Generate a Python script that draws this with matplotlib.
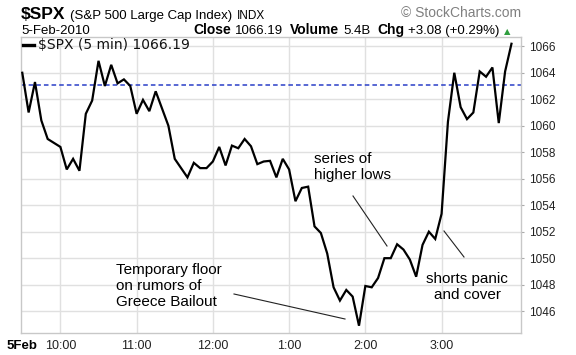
import matplotlib
matplotlib.use("Agg")
import matplotlib.pyplot as plt
from matplotlib.lines import Line2D
import numpy as np

# ---- data (5-minute closes, 5-Feb-2010, starting 9:30) ----
prices = [1064.0, 1061.0, 1063.3, 1060.4, 1059.0, 1058.7, 1058.4, 1056.7, 1057.5, 1056.6,
          1060.9, 1061.9, 1064.9, 1063.0, 1064.6, 1063.2, 1063.5, 1063.0, 1060.9, 1061.95,
          1061.1, 1062.6, 1061.3, 1060.0, 1057.5, 1056.8, 1056.1, 1057.2, 1056.8, 1056.8,
          1057.3, 1058.4, 1057.0, 1058.5, 1058.3, 1059.0, 1058.45, 1057.1, 1057.3, 1057.35,
          1056.1, 1057.5, 1056.7, 1054.3, 1055.3, 1055.4, 1052.4, 1051.9, 1050.35, 1047.8,
          1046.8, 1047.6, 1047.1, 1044.9, 1047.9, 1047.8, 1048.5, 1050.0, 1050.0, 1051.05,
          1050.65, 1049.9, 1048.6, 1051.0, 1052.0, 1051.45, 1053.35, 1060.3, 1064.0, 1061.4,
          1060.5, 1061.0, 1064.1, 1063.7, 1064.4, 1060.2, 1064.1, 1066.19]
minutes = np.arange(len(prices)) * 5          # minutes after 9:30
prev_close = 1063.11

x_tick_pos = [0, 30, 90, 150, 210, 270, 330]
x_tick_labels = ['5Feb', '10:00', '11:00', '12:00', '1:00', '2:00', '3:00']
y_ticks = [1046, 1048, 1050, 1052, 1054, 1056, 1058, 1060, 1062, 1064, 1066]

W, H = 576, 355
fig = plt.figure(figsize=(W / 100, H / 100), dpi=100)
fig.patch.set_facecolor('white')
SANS = ['Liberation Sans', 'DejaVu Sans']

def fx(x):
    return x / W

def fy(y):
    return 1 - y / H

ax = fig.add_axes([fx(21), fy(333), (521 - 21) / W, (333 - 37) / H])
ax.plot(minutes, prices, color='black', lw=1.6, solid_joinstyle='miter', zorder=3)
ax.axhline(prev_close, color='#2a3fc8', lw=1.1, ls=(0, (3, 2)), zorder=2)

ax.set_xlim(-1, 392.5)
ax.set_ylim(1044.35, 1066.7)
ax.set_yticks(y_ticks)
ax.set_yticklabels([str(v) for v in y_ticks], fontfamily=SANS, fontsize=8.5, color='#222222')
ax.yaxis.tick_right()
ax.set_xticks(x_tick_pos)
ax.set_xticklabels(x_tick_labels, fontfamily=SANS, fontsize=9, color='#222222')
lab0 = ax.get_xticklabels()[0]
lab0.set_fontweight('bold')
lab0.set_fontsize(9.5)
lab0.set_color('black')
ax.tick_params(axis='y', length=2, color='#aaaaaa', pad=4)
ax.tick_params(axis='x', length=0, pad=5)

for v in y_ticks:
    ax.axhline(v, color='#e0e0e0', lw=1.0, zorder=1)
for t in x_tick_pos[1:]:
    ax.axvline(t, color='#e0e0e0', lw=1.0, zorder=1)
for s in ax.spines.values():
    s.set_color('#c8c8c8')
    s.set_linewidth(1.0)

# legend line inside the plot
fig.add_artist(Line2D([fx(23), fx(34)], [fy(45), fy(45)], color='black', lw=2.4,
                      transform=fig.transFigure))
fig.text(fx(38), fy(45), '$SPX (5 min) 1066.19', fontsize=10, family='DejaVu Sans',
         va='center', ha='left', color='#111111')

renderer = fig.canvas.get_renderer()

def row(pieces, x0, y):
    """Place text pieces one after another: (text, size, weight, color, family, gap)."""
    x = x0
    for txt, size, weight, color, fam, gap in pieces:
        t = fig.text(fx(x), fy(y), txt, fontsize=size, fontweight=weight, color=color,
                     family=fam, va='baseline', ha='left')
        bb = t.get_window_extent(renderer)
        x = x + bb.width + gap

# header row 1
row([('$SPX', 12.5, 'bold', 'black', SANS, 5),
     ('(S&P 500 Large Cap Index)', 9.5, 'normal', 'black', SANS, 4),
     ('INDX', 8.5, 'normal', 'black', SANS, 0)], 21, 19)
# header row 2
fig.text(fx(21), fy(34), '5-Feb-2010', fontsize=9.5, family=SANS, va='baseline', ha='left')
row([('Close', 10, 'bold', 'black', SANS, 4),
     ('1066.19', 9.5, 'normal', 'black', SANS, 7),
     ('Volume', 10, 'bold', 'black', SANS, 4),
     ('5.4B', 9.5, 'normal', 'black', SANS, 7),
     ('Chg', 10, 'bold', 'black', SANS, 4),
     ('+3.08 (+0.29%)', 9.5, 'normal', 'black', SANS, 4),
     ('\u25b2', 6, 'normal', '#2e9e3e', 'DejaVu Sans', 0)], 193, 34)
fig.text(fx(521), fy(13), '\u00a9 StockCharts.com', fontsize=10, color='#808080',
         family=SANS, va='center', ha='right')

# annotations
fig.text(fx(116), fy(286), 'Temporary floor\non rumors of\nGreece Bailout', fontsize=11,
         family=SANS, va='center', ha='left', linespacing=1.2)
fig.add_artist(Line2D([fx(234), fx(345)], [fy(294), fy(319)], color='#222222', lw=0.8,
                      transform=fig.transFigure))
fig.text(fx(314), fy(167), 'series of\nhigher lows', fontsize=11, family=SANS,
         va='center', ha='left', linespacing=1.2)
fig.add_artist(Line2D([fx(353), fx(387)], [fy(196), fy(246)], color='#222222', lw=0.8,
                      transform=fig.transFigure))
fig.text(fx(467), fy(287), 'shorts panic\nand cover', fontsize=11, family=SANS,
         va='center', ha='center', linespacing=1.2)
fig.add_artist(Line2D([fx(444), fx(464)], [fy(231), fy(257)], color='#222222', lw=0.8,
                      transform=fig.transFigure))

fig.savefig('out.png', dpi=100, facecolor='white')
